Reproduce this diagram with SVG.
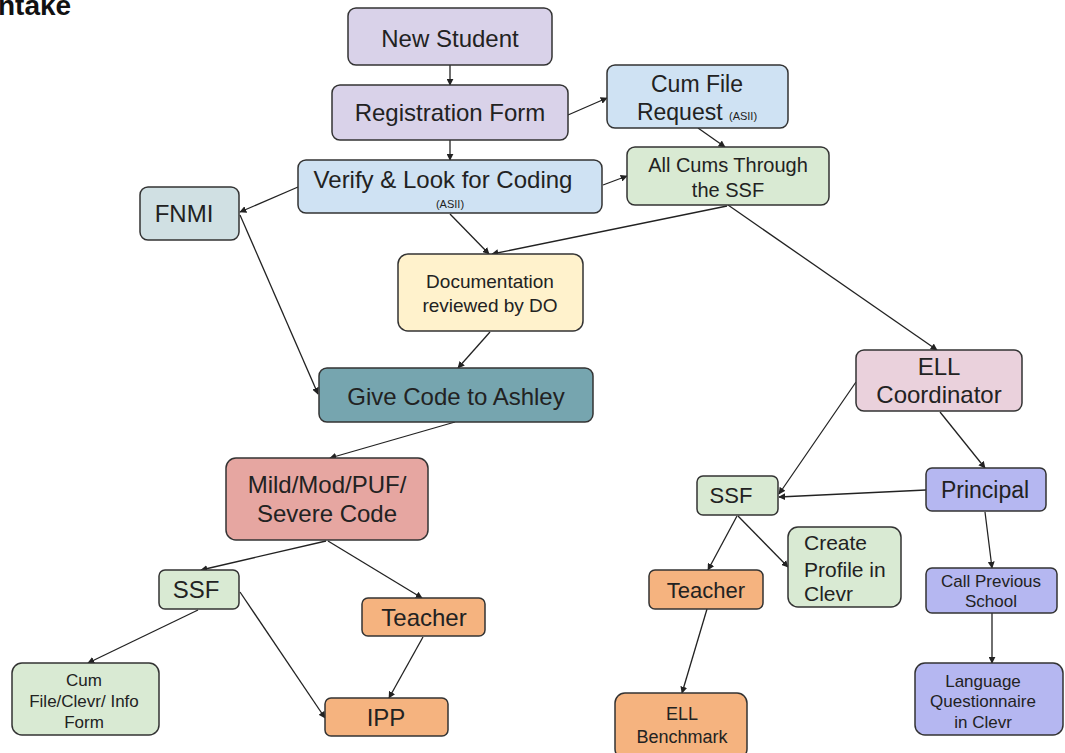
<svg xmlns="http://www.w3.org/2000/svg" width="1065" height="753" viewBox="0 0 1065 753">
<defs>
<marker id="ah" viewBox="0 0 10 10" refX="9" refY="5" markerWidth="7" markerHeight="7" markerUnits="userSpaceOnUse" orient="auto">
<path d="M0,0 L10,5 L0,10 z" fill="#222"/>
</marker>
<style>
.n{stroke:#333;stroke-width:1.5}
.t{font-family:"Liberation Sans",Arial,sans-serif;fill:#222;text-anchor:middle}
.l{font-family:"Liberation Sans",Arial,sans-serif;fill:#222}
.c line{stroke:#222;stroke-width:1.3;marker-end:url(#ah)}
.purple{fill:#d9d2e9}
.blue{fill:#cfe2f3}
.green{fill:#d9ead3}
.cyan{fill:#d0e0e3}
.yellow{fill:#fff2cc}
.teal{fill:#76a5af}
.red{fill:#e6a6a1}
.orange{fill:#f5b37f}
.magenta{fill:#ead1dc}
.violet{fill:#b5b7f1}
</style>
</defs>
<rect width="1065" height="753" fill="#fff"/>
<text x="-2" y="15" style="font-family:'Liberation Sans',Arial,sans-serif;font-weight:bold;font-size:28px" fill="#111">ntake</text>

<g class="c">
<line x1="450" y1="65" x2="450" y2="85"/>
<line x1="450" y1="140" x2="450" y2="160"/>
<line x1="568" y1="115" x2="607" y2="98"/>
<line x1="698" y1="128" x2="725" y2="147"/>
<line x1="603" y1="185" x2="627" y2="176"/>
<line x1="298" y1="187" x2="240" y2="212"/>
<line x1="450" y1="214" x2="489" y2="254"/>
<line x1="727" y1="206" x2="492" y2="254"/>
<line x1="728" y1="205" x2="937" y2="350"/>
<line x1="240" y1="215" x2="318" y2="394"/>
<line x1="490" y1="332" x2="458" y2="368"/>
<line x1="455" y1="422" x2="330" y2="458"/>
<line x1="326" y1="541" x2="201" y2="570"/>
<line x1="328" y1="541" x2="422" y2="598"/>
<line x1="198" y1="610" x2="88" y2="663"/>
<line x1="240" y1="592" x2="325" y2="718"/>
<line x1="423" y1="637" x2="389" y2="698"/>
<line x1="856" y1="382" x2="779" y2="494"/>
<line x1="940" y1="412" x2="985" y2="468"/>
<line x1="926" y1="490" x2="779" y2="497"/>
<line x1="985" y1="512" x2="992" y2="568"/>
<line x1="992" y1="613" x2="992" y2="663"/>
<line x1="737" y1="516" x2="708" y2="570"/>
<line x1="738" y1="516" x2="788" y2="567"/>
<line x1="707" y1="609" x2="682" y2="693"/>
</g>

<g id="new-student"><rect class="n purple" x="348" y="8" width="204" height="57" rx="8"/><text class="t" x="450" y="47" font-size="24">New Student</text></g>
<g id="registration-form"><rect class="n purple" x="332" y="85" width="236" height="55" rx="8"/><text class="t" x="450" y="121" font-size="24">Registration Form</text></g>
<g id="cum-file-request"><rect class="n blue" x="607" y="65" width="181" height="63" rx="8"/><text class="t" x="697" y="92" font-size="23">Cum File</text><text class="t" x="697" y="120" font-size="23">Request <tspan font-size="11">(ASII)</tspan></text></g>
<g id="verify"><rect class="n blue" x="298" y="160" width="304" height="53" rx="8"/><text class="t" x="443" y="188" font-size="24">Verify &amp; Look for Coding</text><text class="t" x="450" y="208" font-size="11">(ASII)</text></g>
<g id="all-cums"><rect class="n green" x="627" y="147" width="202" height="58" rx="8"/><text class="t" x="728" y="172" font-size="20">All Cums Through</text><text class="t" x="728" y="197" font-size="20">the SSF</text></g>
<g id="fnmi"><rect class="n cyan" x="140" y="187" width="99" height="53" rx="8"/><text class="t" x="184" y="222" font-size="24">FNMI</text></g>
<g id="documentation"><rect class="n yellow" x="398" y="254" width="185" height="77" rx="10"/><text class="t" x="490" y="288" font-size="19">Documentation</text><text class="t" x="490" y="312" font-size="19">reviewed by DO</text></g>
<g id="give-code"><rect class="n teal" x="319" y="368" width="274" height="54" rx="8"/><text class="t" x="456" y="405" font-size="24">Give Code to Ashley</text></g>
<g id="mild-mod"><rect class="n red" x="226" y="458" width="202" height="82" rx="10"/><text class="t" x="327" y="493" font-size="24">Mild/Mod/PUF/</text><text class="t" x="327" y="522" font-size="24">Severe Code</text></g>
<g id="ssf-left"><rect class="n green" x="159" y="570" width="80" height="39" rx="6"/><text class="t" x="196" y="598" font-size="24">SSF</text></g>
<g id="teacher-left"><rect class="n orange" x="362" y="598" width="123" height="38" rx="6"/><text class="t" x="424" y="626" font-size="24">Teacher</text></g>
<g id="cum-file-clevr"><rect class="n green" x="12" y="663" width="147" height="72" rx="10"/><text class="t" x="84" y="686" font-size="17">Cum</text><text class="t" x="84" y="707" font-size="17">File/Clevr/ Info</text><text class="t" x="84" y="728" font-size="17">Form</text></g>
<g id="ipp"><rect class="n orange" x="325" y="698" width="123" height="38" rx="6"/><text class="t" x="386" y="726" font-size="24">IPP</text></g>
<g id="ell-coordinator"><rect class="n magenta" x="856" y="350" width="166" height="61" rx="8"/><text class="t" x="939" y="375" font-size="24">ELL</text><text class="t" x="939" y="403" font-size="24">Coordinator</text></g>
<g id="principal"><rect class="n violet" x="926" y="468" width="120" height="43" rx="6"/><text class="t" x="985" y="498" font-size="23">Principal</text></g>
<g id="call-previous"><rect class="n violet" x="926" y="568" width="131" height="45" rx="6"/><text class="t" x="991" y="587" font-size="17">Call Previous</text><text class="t" x="991" y="607" font-size="17">School</text></g>
<g id="language-questionnaire"><rect class="n violet" x="915" y="663" width="148" height="72" rx="10"/><text class="t" x="983" y="687" font-size="17">Language</text><text class="t" x="983" y="707" font-size="17">Questionnaire</text><text class="t" x="983" y="728" font-size="17">in Clevr</text></g>
<g id="ssf-right"><rect class="n green" x="697" y="476" width="81" height="39" rx="6"/><text class="t" x="731" y="503" font-size="22">SSF</text></g>
<g id="create-profile"><rect class="n green" x="788" y="527" width="113" height="80" rx="10"/><text class="l" x="804" y="550" font-size="21">Create</text><text class="l" x="804" y="577" font-size="21">Profile in</text><text class="l" x="804" y="601" font-size="21">Clevr</text></g>
<g id="teacher-right"><rect class="n orange" x="649" y="570" width="114" height="39" rx="6"/><text class="t" x="706" y="598" font-size="22">Teacher</text></g>
<g id="ell-benchmark"><rect class="n orange" x="615" y="693" width="132" height="66" rx="10"/><text class="t" x="682" y="720" font-size="18">ELL</text><text class="t" x="682" y="743" font-size="18">Benchmark</text></g>
</svg>
